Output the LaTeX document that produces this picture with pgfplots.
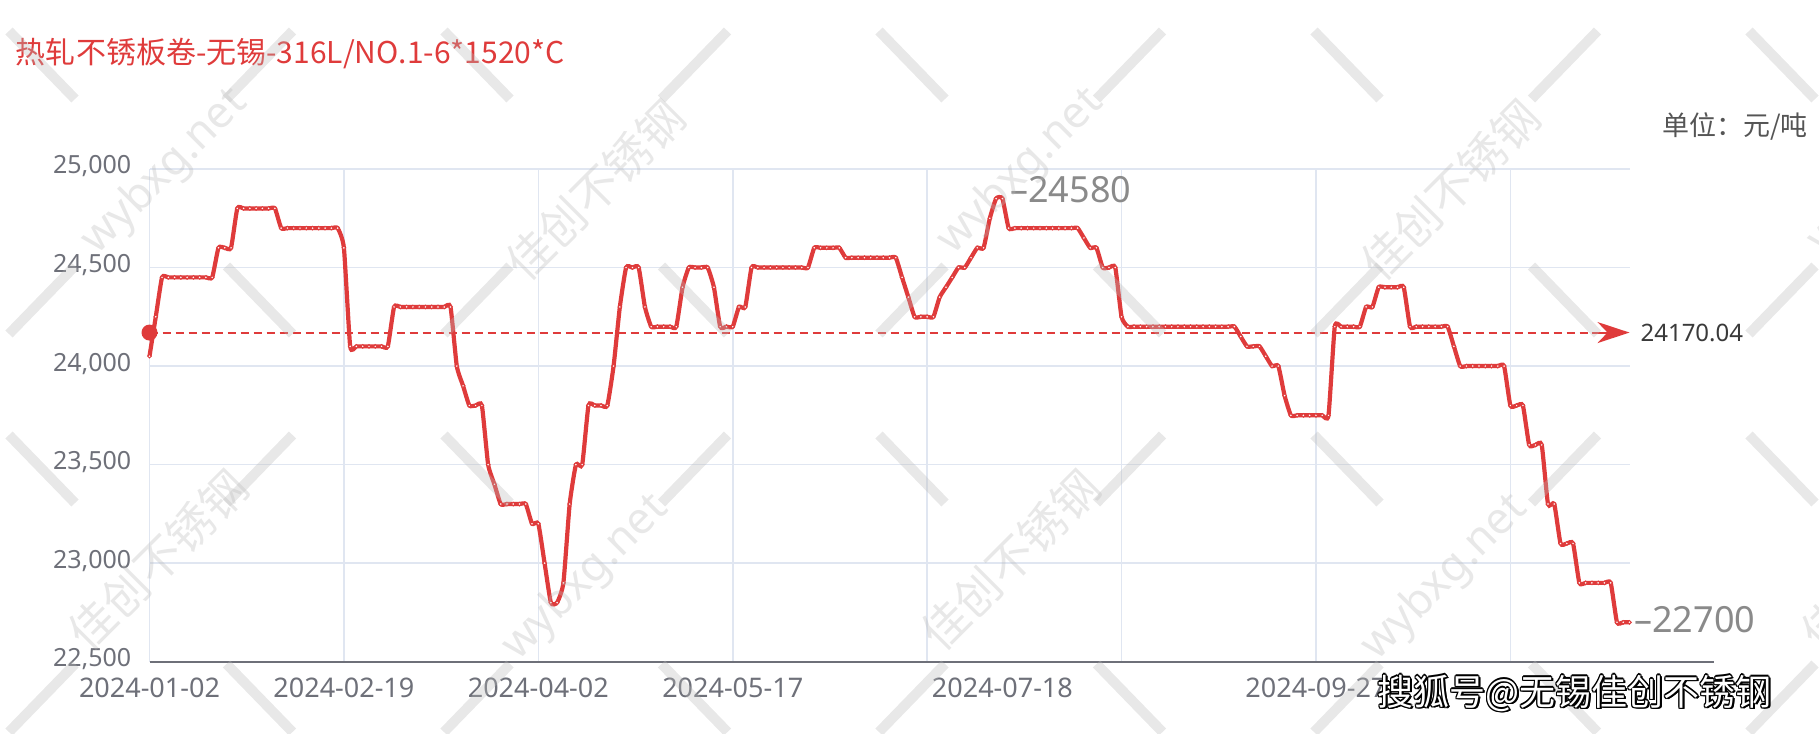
\documentclass[border=0pt]{standalone}
\usepackage{fontspec}
\setmainfont{Noto Sans}
\newfontfamily\cjk{Noto Sans CJK SC}
\usepackage{pgfplots}
\usepackage{pgfplotstable}
\pgfplotsset{compat=1.18}
\usetikzlibrary{arrows.meta}
\definecolor{lred}{HTML}{DF3B3B}
\definecolor{tgray}{HTML}{6E7079}
\definecolor{ggrid}{HTML}{E0E6F1}
\definecolor{wm}{RGB}{185,185,185}
\definecolor{unitgray}{HTML}{555555}
\definecolor{labgray}{HTML}{8A8A8A}
\definecolor{avgtxt}{HTML}{3A3A3A}

\pgfplotstableread{
x y
0 24050
1 24250
2 24450
3 24450
4 24450
5 24450
6 24450
7 24450
8 24450
9 24450
10 24450
11 24600
12 24600
13 24600
14 24800
15 24800
16 24800
17 24800
18 24800
19 24800
20 24800
21 24700
22 24700
23 24700
24 24700
25 24700
26 24700
27 24700
28 24700
29 24700
30 24700
31 24600
32 24100
33 24100
34 24100
35 24100
36 24100
37 24100
38 24100
39 24300
40 24300
41 24300
42 24300
43 24300
44 24300
45 24300
46 24300
47 24300
48 24300
49 24000
50 23900
51 23800
52 23800
53 23800
54 23500
55 23400
56 23300
57 23300
58 23300
59 23300
60 23300
61 23200
62 23200
63 23000
64 22800
65 22800
66 22900
67 23300
68 23500
69 23500
70 23800
71 23800
72 23800
73 23800
74 24000
75 24300
76 24500
77 24500
78 24500
79 24300
80 24200
81 24200
82 24200
83 24200
84 24200
85 24400
86 24500
87 24500
88 24500
89 24500
90 24400
91 24200
92 24200
93 24200
94 24300
95 24300
96 24500
97 24500
98 24500
99 24500
100 24500
101 24500
102 24500
103 24500
104 24500
105 24500
106 24600
107 24600
108 24600
109 24600
110 24600
111 24550
112 24550
113 24550
114 24550
115 24550
116 24550
117 24550
118 24550
119 24550
120 24450
121 24350
122 24250
123 24250
124 24250
125 24250
126 24350
127 24400
128 24450
129 24500
130 24500
131 24550
132 24600
133 24600
134 24750
135 24850
136 24850
137 24700
138 24700
139 24700
140 24700
141 24700
142 24700
143 24700
144 24700
145 24700
146 24700
147 24700
148 24700
149 24650
150 24600
151 24600
152 24500
153 24500
154 24500
155 24250
156 24200
157 24200
158 24200
159 24200
160 24200
161 24200
162 24200
163 24200
164 24200
165 24200
166 24200
167 24200
168 24200
169 24200
170 24200
171 24200
172 24200
173 24200
174 24150
175 24100
176 24100
177 24100
178 24050
179 24000
180 24000
181 23850
182 23750
183 23750
184 23750
185 23750
186 23750
187 23750
188 23750
189 24200
190 24200
191 24200
192 24200
193 24200
194 24300
195 24300
196 24400
197 24400
198 24400
199 24400
200 24400
201 24200
202 24200
203 24200
204 24200
205 24200
206 24200
207 24200
208 24100
209 24000
210 24000
211 24000
212 24000
213 24000
214 24000
215 24000
216 24000
217 23800
218 23800
219 23800
220 23600
221 23600
222 23600
223 23300
224 23300
225 23100
226 23100
227 23100
228 22900
229 22900
230 22900
231 22900
232 22900
233 22900
234 22700
235 22700
236 22700
}\pricedata

\begin{document}
\begin{tikzpicture}
\path[use as bounding box] (0,0) rectangle (909.5pt,366.5pt);
\begin{axis}[
  at={(74.75pt,35.65pt)}, anchor=south west,
  scale only axis, width=740pt, height=246.35pt,
  xmin=0, xmax=236, ymin=22500, ymax=25000,
  clip=false,
  axis line style={draw=none},
  xtick={0,31,...,217}, xticklabels={},
  ytick={22500,23000,...,25000},
  major tick length=0pt,
  grid=major, major grid style={ggrid, line width=0.8pt},
  extra x ticks={0,31,62,93,136,186},
  extra x tick labels={2024-01-02,2024-02-19,2024-04-02,2024-05-17,2024-07-18,2024-09-27},
  extra x tick style={grid=none},
  xticklabel style={anchor=north, inner sep=0pt, yshift=-8pt, font=\fontsize{13.5pt}{16pt}\selectfont, text=tgray},
  yticklabel style={anchor=base east, inner sep=0pt, xshift=-8.9pt, yshift=-2.5pt, font=\fontsize{12.5pt}{15pt}\selectfont, text=tgray},
  scaled y ticks=false,
  /pgf/number format/.cd, fixed, precision=0, 1000 sep={,}, assume math mode=true,
]
\addplot[lred, line width=2.1pt, smooth, tension=0.3, mark=*, mark size=0.9pt,
  mark options={fill=white, draw=lred, line width=0.5pt, solid}] table[x=x,y=y]{\pricedata};
\draw[lred, line width=1pt, dash pattern=on 4pt off 2.5pt] (axis cs:0,24170.04) -- (axis cs:232,24170.04);
\draw[lred, line width=1pt, -{Stealth[length=16pt, width=10.5pt, inset=5pt]}] (axis cs:230,24170.04) -- (axis cs:236,24170.04);
\fill[lred] (axis cs:0,24170.04) circle[radius=4pt];
\node[anchor=west, inner sep=0pt, text=avgtxt, font=\fontsize{12pt}{14pt}\selectfont] at (axis cs:237.7,24170.04) {24170.04};
\node[anchor=west, inner sep=0pt, text=labgray, font=\fontsize{18pt}{20pt}\selectfont] at (axis cs:137.2,24893) {–24580};
\node[anchor=west, inner sep=0pt, text=labgray, font=\fontsize{18pt}{20pt}\selectfont] at (axis cs:236.7,22712) {–22700};
\draw[tgray, line width=1.1pt] (axis cs:0,22500) -- (axis cs:249.5,22500);
\end{axis}
\begin{scope}[x=0.5pt, y=-0.5pt, shift={(0pt,366.5pt)}]
\node[anchor=west, inner sep=0pt, text=lred, font=\cjk\fontsize{15pt}{18pt}\selectfont] at (15.6,53.5) {热轧不锈板卷-无锡-316L/NO.1-6*1520*C};
\node[anchor=east, inner sep=0pt, text=unitgray, font=\cjk\fontsize{13.5pt}{16pt}\selectfont] at (1808,126) {单位：元/吨};
% watermark
\begin{scope}[opacity=0.33, draw=wm, line width=5pt]
\foreach \xc in {42,477,912,1347,1782} {
  \foreach \yc in {65,469} { \draw[wm] (\xc-33,\yc-34) -- (\xc+33,\yc+34); }
  \foreach \yc in {300,698} { \draw[wm] (\xc-33,\yc+34) -- (\xc+33,\yc-34); }
}
\foreach \xc in {259.5,694.5,1129.5,1564.5} {
  \foreach \yc in {65,469} { \draw[wm] (\xc-33,\yc+34) -- (\xc+33,\yc-34); }
  \foreach \yc in {300,698} { \draw[wm] (\xc-33,\yc-34) -- (\xc+33,\yc+34); }
}
\foreach \xc/\t in {165/wybxg.net,1020.75/wybxg.net,1890.75/wybxg.net} {
  \node[rotate=45, text=wm, font=\fontsize{22pt}{24pt}\selectfont] at (\xc,172) {\t};
}
\foreach \xc in {595,1450} {
  \node[rotate=45, text=wm, font=\cjk\fontsize{23pt}{25pt}\selectfont] at (\xc,190) {佳创不锈钢};
}
\foreach \xc in {158,1010,1890.75} {
  \node[rotate=45, text=wm, font=\cjk\fontsize{23pt}{25pt}\selectfont] at (\xc,560) {佳创不锈钢};
}
\foreach \xc in {585.75,1445} {
  \node[rotate=45, text=wm, font=\fontsize{22pt}{24pt}\selectfont] at (\xc,578) {wybxg.net};
}
\end{scope}
% sohu watermark
\foreach \dx/\dy in {-1.4/0,1.4/0,0/-1.4,0/1.4,-1/-1,1/1,-1/1,1/-1,1.8/1.8,2.2/1} {
  \node[anchor=west, inner sep=0pt, text=black, font=\cjk\fontsize{18pt}{20pt}\selectfont] at (1377+\dx,693+\dy) {搜狐号@无锡佳创不锈钢};
}
\node[anchor=west, inner sep=0pt, text=white, font=\cjk\fontsize{18pt}{20pt}\selectfont] at (1377,693) {搜狐号@无锡佳创不锈钢};
\end{scope}
\end{tikzpicture}
\end{document}
